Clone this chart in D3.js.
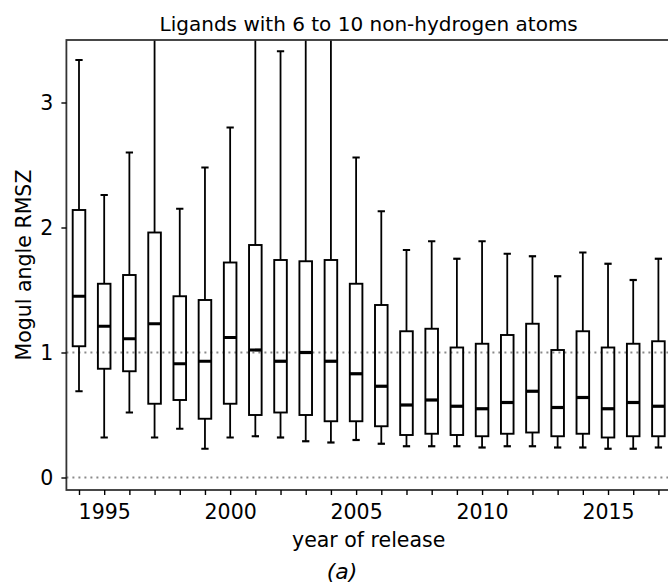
<!doctype html>
<html>
<head>
<style>
  body { margin: 0; background: #fff; }
  svg { font-family: "DejaVu Sans", sans-serif; }
</style>
<script src="https://d3js.org/d3.v7.min.js"></script>
</head>
<body>
<svg width="668" height="583"></svg>
<script>
// values
var years = d3.range(1994, 2018);
var whiskerHigh = [3.34, 2.26, 2.60, 4.3, 2.15, 2.48, 2.80, 4.5, 3.41, 4.6, 4.2, 2.56,
                   2.13, 1.82, 1.89, 1.75, 1.89, 1.79, 1.77, 1.61, 1.80, 1.71, 1.58, 1.75];
var q3 = [2.14, 1.55, 1.62, 1.96, 1.45, 1.42, 1.72, 1.86, 1.74, 1.73, 1.74, 1.55,
          1.38, 1.17, 1.19, 1.04, 1.07, 1.14, 1.23, 1.02, 1.17, 1.04, 1.07, 1.09];
var median = [1.45, 1.21, 1.11, 1.23, 0.91, 0.93, 1.12, 1.02, 0.93, 1.00, 0.93, 0.83,
              0.73, 0.58, 0.62, 0.57, 0.55, 0.60, 0.69, 0.56, 0.64, 0.55, 0.60, 0.57];
var q1 = [1.05, 0.87, 0.85, 0.59, 0.62, 0.47, 0.59, 0.50, 0.52, 0.50, 0.45, 0.45,
          0.41, 0.34, 0.35, 0.34, 0.33, 0.35, 0.36, 0.33, 0.35, 0.32, 0.33, 0.33];
var whiskerLow = [0.69, 0.32, 0.52, 0.32, 0.39, 0.23, 0.32, 0.33, 0.32, 0.29, 0.28, 0.30,
                  0.27, 0.25, 0.25, 0.25, 0.24, 0.25, 0.25, 0.24, 0.24, 0.23, 0.23, 0.24];
var yTicks = [0, 1, 2, 3];
var xLabelYears = [1995, 2000, 2005, 2010, 2015];
var refLines = [0, 1];

var data = years.map(function (y, i) {
    return { year: y, hi: whiskerHigh[i], q3: q3[i], med: median[i], q1: q1[i], lo: whiskerLow[i] };
});

var svg = d3.select("svg");
var plotLeft = 66.4, plotRight = 671, plotTop = 40, plotBottom = 490;

var x = d3.scaleLinear().domain([1993.5, 2017.5]).range([plotLeft, plotRight]);
var y = d3.scaleLinear().domain([-0.1, 3.5]).range([plotBottom, plotTop]);
var boxW = x(1994.5) - x(1994);   // half a year wide
var capW = boxW / 2;

svg.append("clipPath").attr("id", "plot")
    .append("rect")
    .attr("x", plotLeft).attr("y", plotTop)
    .attr("width", plotRight - plotLeft).attr("height", plotBottom - plotTop);

var g = svg.append("g").attr("clip-path", "url(#plot)");

// dotted reference lines
g.selectAll(".ref")
    .data(refLines)
    .enter().append("line")
    .attr("x1", plotLeft).attr("x2", plotRight)
    .attr("y1", d => y(d)).attr("y2", d => y(d))
    .attr("stroke", "#8a8a8a")
    .attr("stroke-width", 2)
    .attr("stroke-dasharray", "2,4");

var box = g.selectAll(".box")
    .data(data)
    .enter().append("g")
    .attr("class", "box");

// whiskers
box.append("line")
    .attr("x1", d => x(d.year)).attr("x2", d => x(d.year))
    .attr("y1", d => y(d.q3)).attr("y2", d => y(d.hi))
    .attr("stroke", "#000").attr("stroke-width", 1.8);
box.append("line")
    .attr("x1", d => x(d.year)).attr("x2", d => x(d.year))
    .attr("y1", d => y(d.q1)).attr("y2", d => y(d.lo))
    .attr("stroke", "#000").attr("stroke-width", 1.8);

// caps
box.selectAll(".cap")
    .data(d => [{ year: d.year, v: d.hi }, { year: d.year, v: d.lo }])
    .enter().append("line")
    .attr("x1", d => x(d.year) - capW / 2 - 0.5).attr("x2", d => x(d.year) + capW / 2 + 0.5)
    .attr("y1", d => y(d.v)).attr("y2", d => y(d.v))
    .attr("stroke", "#000").attr("stroke-width", 2.2);

// boxes
box.append("rect")
    .attr("x", d => x(d.year) - boxW / 2)
    .attr("y", d => y(d.q3))
    .attr("width", boxW)
    .attr("height", d => y(d.q1) - y(d.q3))
    .attr("fill", "none")
    .attr("stroke", "#000").attr("stroke-width", 1.9);

// medians
box.append("line")
    .attr("x1", d => x(d.year) - boxW / 2).attr("x2", d => x(d.year) + boxW / 2)
    .attr("y1", d => y(d.med)).attr("y2", d => y(d.med))
    .attr("stroke", "#000").attr("stroke-width", 3.2);

// frame
svg.append("rect")
    .attr("x", plotLeft).attr("y", plotTop)
    .attr("width", plotRight - plotLeft).attr("height", plotBottom - plotTop)
    .attr("fill", "none")
    .attr("stroke", "#333").attr("stroke-width", 1.8);

// axes
var xAxis = svg.append("g")
    .attr("transform", "translate(0," + plotBottom + ")")
    .call(d3.axisBottom(x).tickValues(years).tickSize(5).tickPadding(9)
        .tickFormat(d => xLabelYears.indexOf(d) >= 0 ? d : ""));
var yAxis = svg.append("g")
    .attr("transform", "translate(" + plotLeft + ",0)")
    .call(d3.axisLeft(y).tickValues(yTicks).tickSize(5).tickPadding(8)
        .tickFormat(d3.format("d")));

[xAxis, yAxis].forEach(function (a) {
    a.select(".domain").remove();
    a.selectAll(".tick line").attr("stroke", "#000").attr("stroke-width", 1.4);
    a.selectAll(".tick text")
        .attr("fill", "#000")
        .attr("font-size", 20.5)
        .attr("font-family", "DejaVu Sans");
});

// labels
svg.append("text")
    .attr("x", (plotLeft + plotRight) / 2).attr("y", 31)
    .attr("text-anchor", "middle")
    .attr("font-size", 20)
    .text("Ligands with 6 to 10 non-hydrogen atoms");

svg.append("text")
    .attr("x", (plotLeft + plotRight) / 2).attr("y", 547)
    .attr("text-anchor", "middle")
    .attr("font-size", 20.5)
    .text("year of release");

svg.append("text")
    .attr("transform", "translate(31," + (plotTop + plotBottom) / 2 + ") rotate(-90)")
    .attr("text-anchor", "middle")
    .attr("font-size", 20.5)
    .text("Mogul angle RMSZ");

svg.append("text")
    .attr("x", 342).attr("y", 579)
    .attr("text-anchor", "middle")
    .attr("font-size", 22)
    .attr("font-style", "italic")
    .text("(a)");
</script>
</body>
</html>
